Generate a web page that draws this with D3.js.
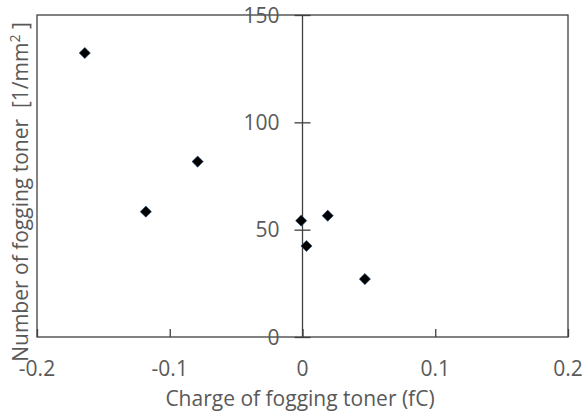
<!DOCTYPE html>
<html><head><meta charset="utf-8">
<script src="https://cdn.jsdelivr.net/npm/d3@7"></script>
<style>body{margin:0;background:#fff} text{white-space:pre}</style>
</head><body>
<svg id="chart" width="585" height="416"></svg>
<script>
const chargeValues = [-0.164, -0.118, -0.079, -0.001, 0.003, 0.019, 0.047];
const foggingCounts = [132.3, 58.4, 81.7, 54.2, 42.4, 56.5, 27.0];
const xTicks = [-0.2, -0.1, 0, 0.1, 0.2];
const xTickLabels = ["-0.2", "-0.1", "0", "0.1", "0.2"];
const yTicks = [0, 50, 100, 150];
const xTitle = "Charge of fogging toner (fC)";
const yTitle = "Number of fogging toner  [1/mm";

const svg = d3.select("#chart");
const L = 37, R = 568, T = 15, B = 337;
const font = "'Open Sans', sans-serif";
const textColor = "#595959", lineColor = "#404040";

const x = d3.scaleLinear().domain([-0.2, 0.2]).range([L, R]);
const y = d3.scaleLinear().domain([0, 150]).range([B, T]);

// frame
svg.append("rect").attr("x", L).attr("y", T).attr("width", R - L).attr("height", B - T)
  .attr("fill", "none").attr("stroke", lineColor).attr("stroke-width", 1.3);

// x axis ticks (inward)
const xAxis = d3.axisTop(x).tickValues(xTicks).tickSize(8).tickFormat("");
const gx = svg.append("g").attr("transform", `translate(0,${B})`).call(xAxis);
gx.select(".domain").remove();
gx.selectAll(".tick line").attr("stroke", lineColor).attr("stroke-width", 1.3);

// x tick labels
svg.append("g").selectAll("text").data(xTicks).join("text")
  .attr("x", d => x(d)).attr("y", 376)
  .attr("text-anchor", "middle")
  .attr("font-family", font).attr("font-size", 21).attr("fill", textColor)
  .text((d, i) => xTickLabels[i]);

// y axis at x=0 with cross ticks
const x0 = x(0);
svg.append("line").attr("x1", x0).attr("x2", x0).attr("y1", T).attr("y2", B)
  .attr("stroke", lineColor).attr("stroke-width", 1.3);
const yAxis = d3.axisLeft(y).tickValues(yTicks).tickSize(8).tickFormat("");
const gy = svg.append("g").attr("transform", `translate(${x0},0)`).call(yAxis);
gy.select(".domain").remove();
gy.selectAll(".tick line").attr("x2", 8).attr("x1", -8).attr("stroke", lineColor).attr("stroke-width", 1.3);

// y tick labels
svg.append("g").selectAll("text").data(yTicks).join("text")
  .attr("x", x0 - 23).attr("y", d => y(d))
  .attr("dy", "0.36em")
  .attr("text-anchor", "end")
  .attr("font-family", font).attr("font-size", 21).attr("fill", textColor)
  .text(d => d);

// points
const diamond = d3.symbol().type(d3.symbolDiamond2).size(80);
svg.append("g").selectAll("path").data(chargeValues.map((c, i) => [c, foggingCounts[i]])).join("path")
  .attr("transform", d => `translate(${x(d[0])},${y(d[1])})`)
  .attr("d", diamond)
  .attr("fill", "#000").attr("stroke", "#1f4e79").attr("stroke-width", 0.6);

// x title
svg.append("text").attr("x", 300).attr("y", 406).attr("text-anchor", "middle")
  .attr("font-family", font).attr("font-size", 21).attr("fill", textColor)
  .text(xTitle);

// y title
const yt = svg.append("text").attr("transform", `translate(28,192) rotate(-90)`)
  .attr("text-anchor", "middle")
  .attr("font-family", font).attr("font-size", 21).attr("fill", textColor);
yt.append("tspan").text(yTitle);
yt.append("tspan").attr("dy", -8).attr("font-size", 14).text("2");
yt.append("tspan").attr("dy", 8).text(" ]");
</script>
</body></html>
